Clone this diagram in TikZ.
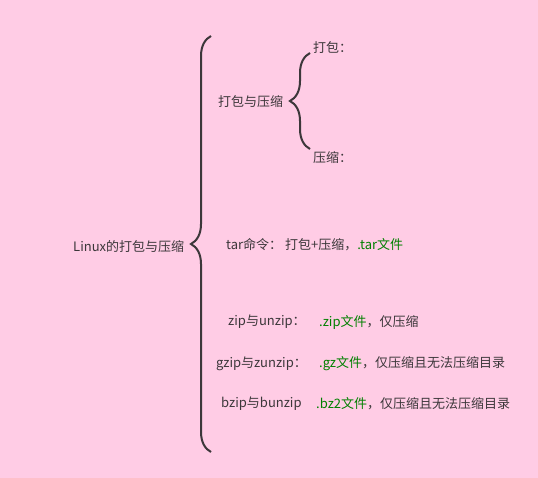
\documentclass[tikz,border=0pt]{standalone}
\usepackage{fontspec}
\setmainfont{Noto Sans CJK SC}
\usetikzlibrary{decorations.pathreplacing}
\definecolor{bgpink}{RGB}{255,204,229}
\definecolor{ink}{RGB}{60,55,58}
\definecolor{filegreen}{RGB}{0,128,0}
\tikzset{
  txt/.style={anchor=west,inner sep=0pt,text=ink,font=\fontsize{13}{15}\selectfont},
  bracket/.style={draw=ink,line width=2pt,decorate,decoration={brace,amplitude=20pt}}
}

\begin{document}
\begin{tikzpicture}[x=1pt,y=-1pt]
  \fill[bgpink] (0,0) rectangle (538,478);
  \useasboundingbox (0,0) rectangle (538,478);

  % root
  \node[txt] (root) at (73,247) {Linux的打包与压缩};
  \coordinate (big top) at (211,36);
  \coordinate (big bot) at (211,452);
  \draw[bracket] (big bot) -- (big top);

  % packing and compressing
  \node[txt] (pack) at (218,102) {打包与压缩};
  \coordinate (small top) at (310,53);
  \coordinate (small bot) at (310,149);
  \draw[bracket] (small bot) -- (small top);
  \node[txt] (packonly) at (313,47) {打包：};
  \node[txt] (compress) at (313,158) {压缩：};

  % commands
  \node[txt] (tar) at (226,245) {tar命令：~打包+压缩，\textcolor{filegreen}{.tar文件}};
  \node[txt] (zip) at (228,322) {zip与unzip：};
  \node[txt] (zipnote) at (319,322) {\textcolor{filegreen}{.zip文件}，仅压缩};
  \node[txt] (gzip) at (216,364) {gzip与zunzip：};
  \node[txt] (gzipnote) at (319,364) {\textcolor{filegreen}{.gz文件}，仅压缩且无法压缩目录};
  \node[txt] (bzip) at (221,404) {bzip与bunzip};
  \node[txt] (bzipnote) at (316,404) {\textcolor{filegreen}{.bz2文件}，仅压缩且无法压缩目录};
\end{tikzpicture}
\end{document}
